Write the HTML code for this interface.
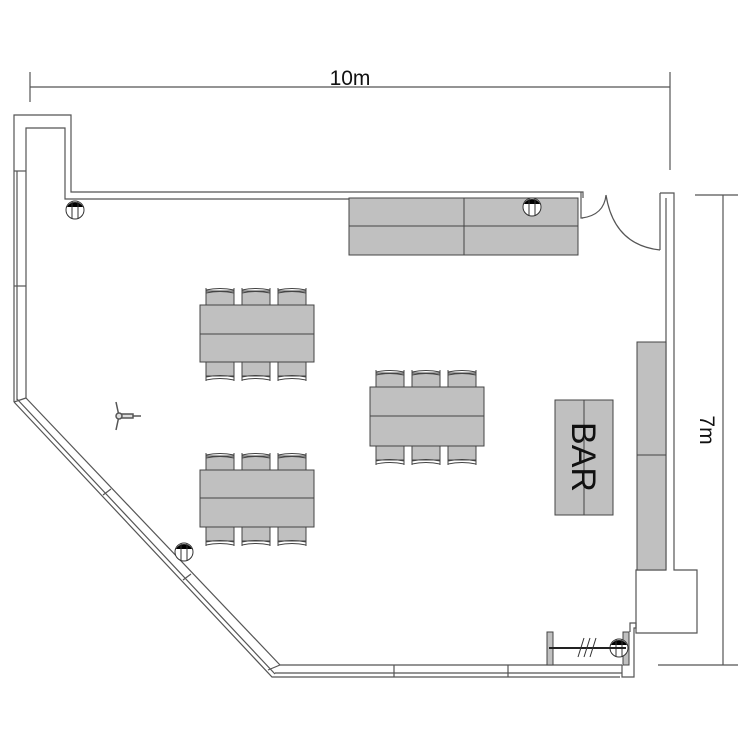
<!DOCTYPE html>
<html><head><meta charset="utf-8"><style>html,body{margin:0;padding:0;background:#fff}svg{display:block}</style></head>
<body>
<svg width="750" height="750" viewBox="0 0 750 750" xmlns="http://www.w3.org/2000/svg">
<defs>
<g id="chairT"><rect x="0" y="4" width="28" height="14" fill="#c0c0c0" stroke="#444" stroke-width="1"/><path d="M0,3 Q14,0 28,3 M0,6 Q14,3 28,6" fill="none" stroke="#444" stroke-width="1"/><line x1="0" y1="1" x2="0" y2="7" stroke="#444"/><line x1="28" y1="1" x2="28" y2="7" stroke="#444"/></g>
<g id="chairB"><rect x="0" y="0" width="28" height="14" fill="#c0c0c0" stroke="#444" stroke-width="1"/><path d="M0,15 Q14,12 28,15 M0,18 Q14,15 28,18" fill="none" stroke="#444" stroke-width="1"/><line x1="0" y1="11" x2="0" y2="19" stroke="#444"/><line x1="28" y1="11" x2="28" y2="19" stroke="#444"/></g>
<g id="light"><circle cx="0" cy="0" r="9" fill="#fff" stroke="#333"/><path d="M-8,-3 A9,9 0 0 1 8,-3 Z" fill="#000"/><line x1="-3" y1="-8" x2="-3" y2="8" stroke="#333"/><line x1="3" y1="-8" x2="3" y2="8" stroke="#333"/></g>
</defs>
<g stroke="#555" stroke-width="1.2" fill="none">
<line x1="30" y1="87" x2="670" y2="87"/><line x1="30" y1="72" x2="30" y2="102"/><line x1="670" y1="72" x2="670" y2="170"/>
<line x1="723" y1="195" x2="723" y2="665"/><line x1="695" y1="195" x2="738" y2="195"/><line x1="658" y1="665" x2="738" y2="665"/>
<polyline points="14,402 14,115 71,115 71,192 583,192 583,198"/>
<polyline points="26,398 26,128 65,128 65,199 578,199"/>
<line x1="17" y1="171" x2="17" y2="400"/><line x1="14" y1="171" x2="26" y2="171"/><line x1="14" y1="286" x2="26" y2="286"/>
<polyline points="14,402 272,677 620,677"/>
<line x1="17" y1="399" x2="275" y2="674"/>
<polyline points="26,398 280,665"/>
<line x1="14" y1="402" x2="26" y2="398"/>
<line x1="103" y1="495" x2="111" y2="489"/><line x1="183" y1="580" x2="191" y2="574"/><line x1="268" y1="670" x2="280" y2="665"/>
<line x1="280" y1="665" x2="622" y2="665"/><line x1="275" y1="673" x2="622" y2="673"/>
<line x1="394" y1="665" x2="394" y2="677"/><line x1="508" y1="665" x2="508" y2="677"/>
<polyline points="622,665 622,677 634,677 634,628 636,628 636,623 630,623 630,632"/>
<polyline points="660,193 666,193 674,193 674,570 697,570 697,633 636,633 636,570 666,570 666,198"/>
<polyline points="660,193 660,250"/>
<polyline points="581,192 581,218 583,218"/>
<path d="M582,218 Q604,215 606,195 M606,195 Q614,245 660,250"/>
</g>
<g fill="#c0c0c0" stroke="#444" stroke-width="1">
<rect x="349" y="198" width="229" height="57"/><line x1="464" y1="198" x2="464" y2="255"/><line x1="349" y1="226" x2="578" y2="226"/>
<rect x="637" y="342" width="29" height="228"/><line x1="637" y1="455" x2="666" y2="455"/>
<rect x="555" y="400" width="58" height="115"/><line x1="584" y1="400" x2="584" y2="515"/>
<rect x="200" y="305" width="114" height="57"/><line x1="200" y1="334" x2="314" y2="334"/>
<rect x="370" y="387" width="114" height="59"/><line x1="370" y1="416" x2="484" y2="416"/>
<rect x="200" y="470" width="114" height="57"/><line x1="200" y1="498" x2="314" y2="498"/>
<rect x="547" y="632" width="6" height="33"/><rect x="623" y="632" width="6" height="33"/>
</g>
<use href="#chairT" x="206" y="287"/><use href="#chairT" x="242" y="287"/><use href="#chairT" x="278" y="287"/>
<use href="#chairB" x="206" y="362"/><use href="#chairB" x="242" y="362"/><use href="#chairB" x="278" y="362"/>
<use href="#chairT" x="376" y="369"/><use href="#chairT" x="412" y="369"/><use href="#chairT" x="448" y="369"/>
<use href="#chairB" x="376" y="446"/><use href="#chairB" x="412" y="446"/><use href="#chairB" x="448" y="446"/>
<use href="#chairT" x="206" y="452"/><use href="#chairT" x="242" y="452"/><use href="#chairT" x="278" y="452"/>
<use href="#chairB" x="206" y="527"/><use href="#chairB" x="242" y="527"/><use href="#chairB" x="278" y="527"/>
<use href="#light" x="75" y="210"/><use href="#light" x="532" y="207"/><use href="#light" x="184" y="552"/><use href="#light" x="619" y="648"/>
<g stroke="#222" stroke-width="2"><line x1="549" y1="648" x2="626" y2="648"/></g>
<g stroke="#333" stroke-width="1"><line x1="578" y1="657" x2="584" y2="638"/><line x1="584" y1="657" x2="590" y2="638"/><line x1="590" y1="657" x2="596" y2="638"/></g>
<g stroke="#555" stroke-width="1.5" fill="#ddd"><line x1="119" y1="416" x2="116" y2="402"/><line x1="119" y1="416" x2="116" y2="430"/><rect x="121" y="414" width="12" height="4"/><line x1="133" y1="416" x2="141" y2="416"/><circle cx="119" cy="416" r="3"/></g>
<g font-family="Liberation Sans, sans-serif" fill="#111">
<text x="350" y="85" font-size="21" text-anchor="middle">10m</text>
<text transform="translate(700,430) rotate(90)" font-size="21" text-anchor="middle">7m</text>
<text transform="translate(572,457) rotate(90)" font-size="34" text-anchor="middle">BAR</text>
</g>
</svg>
</body></html>
